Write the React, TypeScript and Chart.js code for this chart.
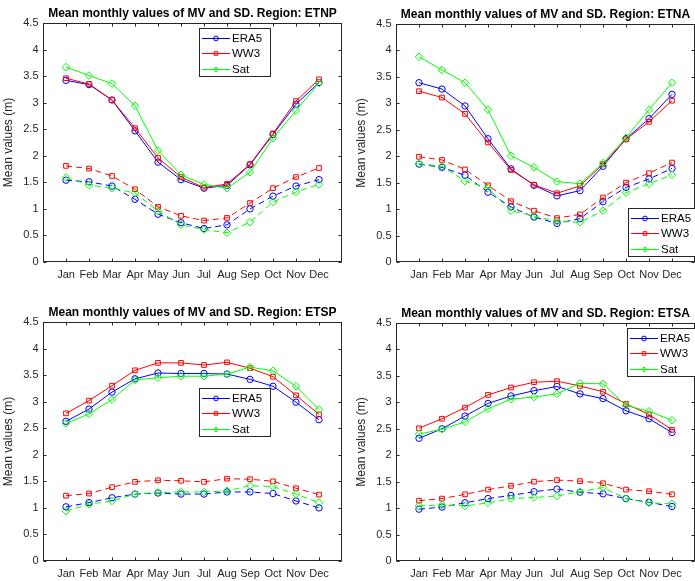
import React, { useEffect, useRef } from 'react';
import { Chart, registerables } from 'chart.js';

Chart.register(...registerables);

// ---------- data ----------
const MONTHS = ['Jan', 'Feb', 'Mar', 'Apr', 'May', 'Jun', 'Jul', 'Aug', 'Sep', 'Oct', 'Nov', 'Dec'];
const Y_TICKS = [0, 0.5, 1, 1.5, 2, 2.5, 3, 3.5, 4, 4.5];
const SERIES = ['ERA5', 'WW3', 'Sat'];
const COLORS = ['#0000ff', '#ff0000', '#00ff00'];
const MARKERS = ['circle', 'rect', 'rectRot'];

// ETNP
const ETNP_MV_ERA5 = [3.42, 3.34, 3.05, 2.47, 1.88, 1.55, 1.39, 1.44, 1.83, 2.40, 2.97, 3.38];
const ETNP_MV_WW3 = [3.46, 3.35, 3.05, 2.52, 1.96, 1.60, 1.40, 1.47, 1.84, 2.42, 3.03, 3.44];
const ETNP_MV_SAT = [3.67, 3.51, 3.36, 2.94, 2.10, 1.64, 1.46, 1.39, 1.69, 2.33, 2.85, 3.37];
const ETNP_SD_ERA5 = [1.54, 1.51, 1.43, 1.18, 0.90, 0.74, 0.63, 0.70, 1.00, 1.24, 1.43, 1.55];
const ETNP_SD_WW3 = [1.81, 1.76, 1.62, 1.37, 1.04, 0.87, 0.78, 0.83, 1.11, 1.39, 1.60, 1.77];
const ETNP_SD_SAT = [1.59, 1.45, 1.39, 1.30, 0.96, 0.70, 0.61, 0.55, 0.75, 1.13, 1.32, 1.46];

// ETNA
const ETNA_MV_ERA5 = [3.39, 3.27, 2.95, 2.33, 1.76, 1.45, 1.25, 1.35, 1.81, 2.33, 2.71, 3.17];
const ETNA_MV_WW3 = [3.23, 3.11, 2.80, 2.26, 1.74, 1.46, 1.30, 1.44, 1.85, 2.32, 2.65, 3.05];
const ETNA_MV_SAT = [3.88, 3.63, 3.39, 2.88, 2.01, 1.79, 1.52, 1.48, 1.87, 2.35, 2.88, 3.39];
const ETNA_SD_ERA5 = [1.85, 1.79, 1.64, 1.32, 1.04, 0.85, 0.73, 0.82, 1.14, 1.41, 1.57, 1.77];
const ETNA_SD_WW3 = [1.99, 1.93, 1.75, 1.45, 1.15, 0.97, 0.83, 0.90, 1.22, 1.50, 1.68, 1.88];
const ETNA_SD_SAT = [1.86, 1.81, 1.53, 1.40, 0.97, 0.87, 0.77, 0.75, 0.97, 1.31, 1.48, 1.65];

// ETSP
const ETSP_MV_ERA5 = [2.63, 2.86, 3.18, 3.43, 3.54, 3.53, 3.53, 3.52, 3.42, 3.29, 2.99, 2.66];
const ETSP_MV_WW3 = [2.78, 3.02, 3.30, 3.59, 3.73, 3.73, 3.69, 3.74, 3.63, 3.47, 3.12, 2.76];
const ETSP_MV_SAT = [2.59, 2.77, 3.04, 3.41, 3.45, 3.48, 3.48, 3.52, 3.65, 3.58, 3.29, 2.85];
const ETSP_SD_ERA5 = [1.02, 1.10, 1.19, 1.26, 1.28, 1.26, 1.26, 1.30, 1.30, 1.27, 1.13, 1.00];
const ETSP_SD_WW3 = [1.23, 1.27, 1.39, 1.49, 1.52, 1.51, 1.49, 1.55, 1.54, 1.50, 1.37, 1.25];
const ETSP_SD_SAT = [0.94, 1.07, 1.13, 1.26, 1.29, 1.30, 1.30, 1.32, 1.42, 1.40, 1.26, 1.10];

// ETSA
const ETSA_MV_ERA5 = [2.32, 2.50, 2.74, 2.98, 3.12, 3.22, 3.30, 3.16, 3.07, 2.84, 2.69, 2.43];
const ETSA_MV_WW3 = [2.51, 2.69, 2.90, 3.14, 3.28, 3.38, 3.40, 3.31, 3.20, 2.97, 2.77, 2.48];
const ETSA_MV_SAT = [2.40, 2.49, 2.63, 2.88, 3.06, 3.10, 3.16, 3.36, 3.35, 2.94, 2.83, 2.66];
const ETSA_SD_ERA5 = [0.98, 1.02, 1.10, 1.18, 1.24, 1.31, 1.36, 1.30, 1.27, 1.18, 1.11, 1.03];
const ETSA_SD_WW3 = [1.14, 1.18, 1.26, 1.35, 1.42, 1.50, 1.53, 1.51, 1.47, 1.35, 1.32, 1.26];
const ETSA_SD_SAT = [1.04, 1.06, 1.04, 1.10, 1.18, 1.20, 1.23, 1.31, 1.39, 1.18, 1.10, 1.08];

// ---------- layout / style ----------
const AXIS_COLOR = '#262626';
const FONT = '"Liberation Sans", Arial, Helvetica, sans-serif';
const CANVAS_W = 347;
const CANVAS_H = 290;

type Panel = {
  region: string;
  mv: number[][];
  sd: number[][];
  left: number;
  top: number;
  padTop: number;
  legend: { dx: number; dy: number };
};

const PANELS: Panel[] = [
  { region: 'ETNP', mv: [ETNP_MV_ERA5, ETNP_MV_WW3, ETNP_MV_SAT], sd: [ETNP_SD_ERA5, ETNP_SD_WW3, ETNP_SD_SAT], left: 0, top: 0, padTop: 23, legend: { dx: 156, dy: 5 } },
  { region: 'ETNA', mv: [ETNA_MV_ERA5, ETNA_MV_WW3, ETNA_MV_SAT], sd: [ETNA_SD_ERA5, ETNA_SD_WW3, ETNA_SD_SAT], left: 353, top: 0, padTop: 24, legend: { dx: 232, dy: 184 } },
  { region: 'ETSP', mv: [ETSP_MV_ERA5, ETSP_MV_WW3, ETSP_MV_SAT], sd: [ETSP_SD_ERA5, ETSP_SD_WW3, ETSP_SD_SAT], left: 0, top: 299, padTop: 23, legend: { dx: 156, dy: 66 } },
  { region: 'ETSA', mv: [ETSA_MV_ERA5, ETSA_MV_WW3, ETSA_MV_SAT], sd: [ETSA_SD_ERA5, ETSA_SD_WW3, ETSA_SD_SAT], left: 353, top: 299, padTop: 24, legend: { dx: 231, dy: 5 } },
];

function drawMarker(ctx: CanvasRenderingContext2D, kind: string, x: number, y: number, r: number) {
  ctx.beginPath();
  if (kind === 'circle') {
    ctx.arc(x, y, r, 0, Math.PI * 2);
  } else if (kind === 'rect') {
    ctx.rect(x - r * 0.75, y - r * 0.75, r * 1.5, r * 1.5);
  } else {
    ctx.moveTo(x, y - r * 1.1);
    ctx.lineTo(x + r * 0.8, y);
    ctx.lineTo(x, y + r * 1.1);
    ctx.lineTo(x - r * 0.8, y);
    ctx.closePath();
  }
  ctx.stroke();
}

const decorPlugin = {
  id: 'decor',
  afterDatasetsDraw(chart: any, _args: any, opts: any) {
    const { ctx, chartArea: a, scales } = chart;
    const L = Math.round(a.left) + 0.5;
    const R = Math.round(a.right) - 0.5;
    const T = Math.round(a.top) + 0.5;
    const B = Math.round(a.bottom) - 0.5;
    ctx.save();
    ctx.strokeStyle = AXIS_COLOR;
    ctx.lineWidth = 1;
    ctx.setLineDash([]);
    ctx.strokeRect(L, T, R - L, B - T);
    const tl = 3;
    ctx.beginPath();
    for (let i = 0; i < MONTHS.length; i++) {
      const x = Math.round(scales.x.getPixelForValue(i + 1)) + 0.5;
      ctx.moveTo(x, B); ctx.lineTo(x, B - tl);
      ctx.moveTo(x, T); ctx.lineTo(x, T + tl);
    }
    for (const v of Y_TICKS) {
      const y = Math.round(scales.y.getPixelForValue(v)) + 0.5;
      ctx.moveTo(L, y); ctx.lineTo(L + tl, y);
      ctx.moveTo(R, y); ctx.lineTo(R - tl, y);
    }
    ctx.stroke();

    // title
    ctx.fillStyle = '#000000';
    ctx.font = `bold 12px ${FONT}`;
    ctx.textAlign = 'center';
    ctx.textBaseline = 'alphabetic';
    ctx.fillText(opts.title, (a.left + a.right) / 2, a.top - 6);

    // y label
    ctx.save();
    ctx.fillStyle = AXIS_COLOR;
    ctx.font = `12px ${FONT}`;
    ctx.translate(a.left - 31, (a.top + a.bottom) / 2);
    ctx.rotate(-Math.PI / 2);
    ctx.textAlign = 'center';
    ctx.textBaseline = 'alphabetic';
    ctx.fillText('Mean values (m)', 0, 0);
    ctx.restore();

    // legend
    const lx = a.left + opts.legend.dx;
    const ly = a.top + opts.legend.dy;
    const lw = 71;
    const lh = 48;
    ctx.fillStyle = '#ffffff';
    ctx.fillRect(lx, ly, lw, lh);
    ctx.strokeStyle = AXIS_COLOR;
    ctx.strokeRect(Math.round(lx) + 0.5, Math.round(ly) + 0.5, lw, lh);
    ctx.font = `11.5px ${FONT}`;
    ctx.textAlign = 'left';
    ctx.textBaseline = 'middle';
    SERIES.forEach((name, i) => {
      const ry = Math.round(ly + 10 + i * 15.3) + 0.5;
      ctx.strokeStyle = COLORS[i];
      ctx.lineWidth = 1;
      ctx.beginPath();
      ctx.moveTo(lx + 3, ry);
      ctx.lineTo(lx + 31, ry);
      ctx.stroke();
      drawMarker(ctx, MARKERS[i], lx + 17, ry, 2.4);
      ctx.fillStyle = '#000000';
      ctx.fillText(name, lx + 33, ry + 0.5);
    });
    ctx.restore();
  },
};

function PanelChart({ panel }: { panel: Panel }) {
  const ref = useRef<HTMLCanvasElement | null>(null);
  useEffect(() => {
    if (!ref.current) return;
    const datasets: any[] = [];
    const groups = [panel.mv, panel.sd];
    let order = 20;
    groups.forEach((group, g) => {
      group.forEach((vals, i) => {
        datasets.push({
          label: `${SERIES[i]}${g ? ' SD' : ''}`,
          data: vals.map((v, k) => ({ x: k + 1, y: v })),
          borderColor: COLORS[i],
          backgroundColor: 'rgba(0,0,0,0)',
          borderWidth: 1,
          borderDash: g ? [6, 4] : [],
          pointStyle: MARKERS[i],
          pointRadius: i === 0 ? 3.2 : i === 1 ? 3.3 : 3.8,
          pointBorderColor: COLORS[i],
          pointBackgroundColor: 'rgba(0,0,0,0)',
          pointBorderWidth: 1,
          tension: 0,
          order: order--,
        });
      });
    });
    const tickFont = { family: FONT, size: 11 };
    const chart = new Chart(ref.current, {
      type: 'line',
      data: { datasets },
      plugins: [decorPlugin],
      options: {
        animation: false,
        responsive: false,
        devicePixelRatio: 1,
        layout: { padding: { top: panel.padTop, right: 2, left: 0, bottom: 0 } },
        scales: {
          x: {
            type: 'linear',
            min: 0,
            max: 13,
            afterBuildTicks: (s: any) => { s.ticks = MONTHS.map((_, i) => ({ value: i + 1 })); },
            afterFit: (s: any) => { s.height = 28; },
            grid: { display: false, drawTicks: false },
            border: { display: false },
            ticks: {
              autoSkip: false,
              maxRotation: 0,
              padding: 6,
              color: AXIS_COLOR,
              font: tickFont,
              callback: (v: any) => MONTHS[Math.round(Number(v)) - 1] ?? '',
            },
          },
          y: {
            type: 'linear',
            min: 0,
            max: 4.5,
            afterBuildTicks: (s: any) => { s.ticks = Y_TICKS.map((v) => ({ value: v })); },
            afterFit: (s: any) => { s.width = 43; },
            grid: { display: false, drawTicks: false },
            border: { display: false },
            ticks: {
              padding: 4.5,
              color: AXIS_COLOR,
              font: tickFont,
              callback: (v: any) => String(v),
            },
          },
        },
        plugins: {
          legend: { display: false },
          tooltip: { enabled: false },
          // @ts-ignore
          decor: { title: `Mean monthly values of MV and SD. Region: ${panel.region}`, legend: panel.legend },
        },
      } as any,
    });
    return () => chart.destroy();
  }, [panel]);
  return (
    <canvas
      ref={ref}
      width={CANVAS_W}
      height={CANVAS_H}
      style={{ position: 'absolute', left: panel.left, top: panel.top, width: CANVAS_W, height: CANVAS_H }}
    />
  );
}

export default function App() {
  return (
    <div style={{ position: 'fixed', left: 0, top: 0, width: 695, height: 581, overflow: 'hidden', background: '#ffffff' }}>
      {PANELS.map((p) => (
        <PanelChart key={p.region} panel={p} />
      ))}
    </div>
  );
}
